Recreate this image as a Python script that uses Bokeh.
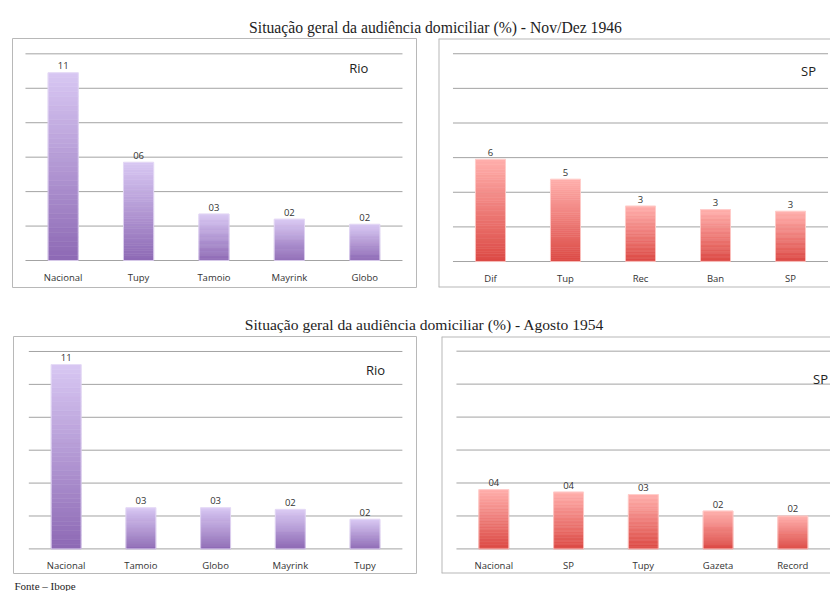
from bokeh.plotting import figure
from bokeh.models import Range1d, FixedTicker
from bokeh.layouts import column, row
from bokeh.embed import file_html
from bokeh.resources import INLINE
from bokeh.core.properties import value

# ---------------- data ----------------
title_1946 = "Situação geral da audiência domiciliar (%) - Nov/Dez 1946"
title_1954 = "Situação geral da audiência domiciliar (%) - Agosto 1954"
source_note = "Fonte – Ibope"

rio_1946_names = ["Nacional", "Tupy", "Tamoio", "Mayrink", "Globo"]
rio_1946_values = [10.9, 5.7, 2.7, 2.4, 2.1]
rio_1946_labels = ["11", "06", "03", "02", "02"]

sp_1946_names = ["Dif", "Tup", "Rec", "Ban", "SP"]
sp_1946_values = [5.9, 4.75, 3.2, 3.0, 2.9]
sp_1946_labels = ["6", "5", "3", "3", "3"]

rio_1954_names = ["Nacional", "Tamoio", "Globo", "Mayrink", "Tupy"]
rio_1954_values = [11.2, 2.5, 2.5, 2.4, 1.8]
rio_1954_labels = ["11", "03", "03", "02", "02"]

sp_1954_names = ["Nacional", "SP", "Tupy", "Gazeta", "Record"]
sp_1954_values = [3.6, 3.45, 3.3, 2.3, 2.0]
sp_1954_labels = ["04", "04", "03", "02", "02"]

grid_values = [0, 2, 4, 6, 8, 10, 12]

# ---------------- style ----------------
PURPLE = ("#8e6ab5", "#d7c6f2", "#e6dcf6")   # bottom, top, edge
RED = ("#dc4a45", "#ffaeab", "#ffd2cf")
GRID = "#a3a3a3"
FRAME = "#b8b8b8"
SANS = "Open Sans"
SERIF = "Liberation Serif"
TOTAL_W = 830


def mix(c0, c1, t):
    a = [int(c0[i:i + 2], 16) for i in (1, 3, 5)]
    b = [int(c1[i:i + 2], 16) for i in (1, 3, 5)]
    return "#%02x%02x%02x" % tuple(round(a[j] + (b[j] - a[j]) * t) for j in range(3))


def panel(names, vals, labels, city, city_xy, xr, yr, width, height, mb,
          colors, open_right):
    p = figure(width=width, height=height, x_range=Range1d(*xr),
               y_range=Range1d(*yr), output_backend="svg",
               toolbar_location=None, min_border_left=mb[0],
               min_border_right=mb[1], min_border_top=mb[2],
               min_border_bottom=mb[3])
    p.yaxis.visible = False
    p.xgrid.visible = False
    p.ygrid.visible = False
    p.background_fill_color = "white"
    p.border_fill_color = "white"
    n = len(names)
    idx = list(range(n))

    # horizontal gridlines across the category area
    p.segment(x0=[-0.5] * len(grid_values), x1=[n - 0.5] * len(grid_values),
              y0=grid_values, y1=grid_values, line_color=GRID, line_width=1)

    # gradient bars: each bar cut into thin slices
    N = 40
    xs, bots, tops, cols = [], [], [], []
    for i, v in zip(idx, vals):
        for k in range(N):
            xs.append(i)
            bots.append(v * k / N)
            tops.append(v * (k + 1) / N)
            cols.append(mix(colors[0], colors[1], k / (N - 1)))
    p.vbar(x=xs, bottom=bots, top=tops, width=0.4, fill_color=cols,
           line_color=cols, line_width=0.6)
    p.vbar(x=idx, top=vals, width=0.4, fill_color=None,
           line_color=colors[2], line_width=1, line_alpha=0.8)

    # value labels
    p.text(x=idx, y=vals, text=labels, y_offset=-7, text_align="center",
           text_baseline="alphabetic", text_font=value(SANS),
           text_font_size="9.5px", text_color="#333333")
    # city label
    p.text(x=[city_xy[0]], y=[city_xy[1]], text=[city], text_align="center",
           text_baseline="middle", text_font=value(SANS),
           text_font_size="13px", text_color="#222222")

    # category axis inside the box
    ax = p.xaxis[0]
    ax.ticker = FixedTicker(ticks=idx)
    ax.major_label_overrides = {i: nm for i, nm in enumerate(names)}
    ax.fixed_location = 0
    ax.axis_line_color = None
    ax.major_tick_line_color = None
    ax.minor_tick_line_color = None
    ax.major_tick_out = 0
    ax.major_tick_in = 0
    ax.minor_tick_out = 0
    ax.major_label_standoff = 10
    ax.major_label_text_font = SANS
    ax.major_label_text_font_size = "9.5px"
    ax.major_label_text_color = "#333333"

    if open_right:
        p.outline_line_color = None
        big = xr[1] + 5
        p.segment(x0=[xr[0], xr[0], xr[0]], x1=[xr[0], big, big],
                  y0=[yr[0], yr[1], yr[0]], y1=[yr[1], yr[1], yr[0]],
                  line_color=FRAME, line_width=2)
    else:
        p.outline_line_color = FRAME
        p.outline_line_width = 1
    return p


def strip(width, y_top, y_bottom, txt, x, y, size, align):
    f = figure(width=width, height=y_bottom - y_top, x_range=Range1d(0, width),
               y_range=Range1d(y_bottom, y_top), output_backend="svg",
               toolbar_location=None, min_border_left=0, min_border_right=0,
               min_border_top=0, min_border_bottom=0)
    f.axis.visible = False
    f.grid.visible = False
    f.outline_line_color = None
    f.text(x=[x], y=[y], text=[txt], text_font=value(SERIF),
           text_font_size=size, text_align=align, text_baseline="alphabetic",
           text_color="#1e1e1e")
    return f


t1 = strip(TOTAL_W, 0, 37, title_1946, 435, 27.3, "15.7px", "center")
p1 = panel(rio_1946_names, rio_1946_values, rio_1946_labels, "Rio", (3.92, 11.15),
           (-0.672, 4.686), (-1.567, 12.89), 427, 251, (12, 11, 1, 1), PURPLE, False)
p2 = panel(sp_1946_names, sp_1946_values, sp_1946_labels, "SP", (4.24, 10.99),
           (-0.693, 4.533), (-1.50, 12.88), 403, 251, (11, 0, 1, 1), RED, True)
t2 = strip(TOTAL_W, 288, 334, title_1954, 424, 324, "15.6px", "center")
p3 = panel(rio_1954_names, rio_1954_values, rio_1954_labels, "Rio", (4.14, 10.89),
           (-0.705, 4.689), (-1.495, 12.91), 428, 240, (13, 12, 1, 1), PURPLE, False)
p4 = panel(sp_1954_names, sp_1954_values, sp_1954_labels, "SP", (4.37, 10.33),
           (-0.70, 4.504), (-1.492, 12.89), 402, 240, (13, 0, 2, 0), RED, True)
ft = strip(TOTAL_W, 574, 591, source_note, 14, 585.5, "11px", "left")

layout = column(t1, row(p1, p2), t2, row(p3, p4), ft)

open("out.html", "w").write(file_html(layout, INLINE))
